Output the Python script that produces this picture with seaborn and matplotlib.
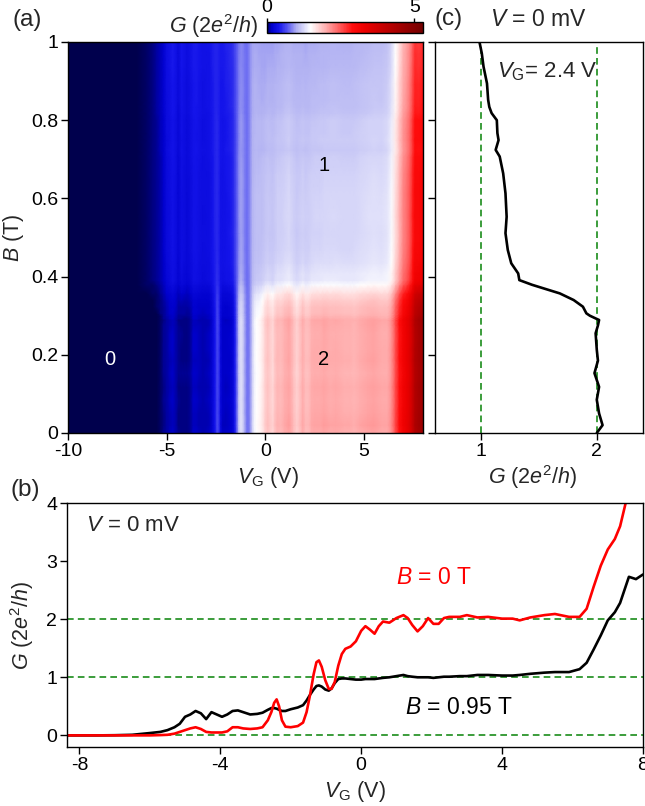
import numpy as np
import matplotlib
matplotlib.use("Agg")
import matplotlib.pyplot as plt
import seaborn as sns
from matplotlib.colors import LinearSegmentedColormap

# ---- gate sweeps at V = 0 mV (conductance in units of 2e^2/h) ----
vg = [-8.4, -7.5, -7.0, -6.5, -6.0, -5.7, -5.5, -5.3, -5.15, -5.0, -4.85, -4.7,
      -4.55, -4.4, -4.25, -4.1, -3.95, -3.8, -3.65, -3.5, -3.35, -3.15, -2.95,
      -2.8, -2.65, -2.55, -2.47, -2.4, -2.33, -2.25, -2.15, -2.0, -1.8, -1.65,
      -1.55, -1.45, -1.35, -1.27, -1.2, -1.12, -1.02, -0.92, -0.84, -0.75, -0.65,
      -0.55, -0.45, -0.3, -0.15, 0.0, 0.12, 0.25, 0.38, 0.5, 0.62, 0.8, 1.0, 1.2,
      1.32, 1.45, 1.6, 1.75, 1.9, 2.05, 2.2, 2.35, 2.5, 2.8, 3.0, 3.3, 3.6, 4.0,
      4.3, 4.5, 4.8, 5.2, 5.5, 5.9, 6.2, 6.4, 6.6, 6.8, 7.0, 7.2, 7.35, 7.5, 7.6,
      7.8, 8.0]
g_b0 = [0.0, 0.0, 0.0, 0.0, 0.0, 0.005, 0.01, 0.03, 0.06, 0.09, 0.12, 0.14,
        0.11, 0.06, 0.05, 0.05, 0.05, 0.07, 0.14, 0.14, 0.12, 0.11, 0.12,
        0.14, 0.26, 0.40, 0.56, 0.62, 0.50, 0.26, 0.15, 0.14, 0.16, 0.22,
        0.40, 0.70, 1.05, 1.26, 1.29, 1.18, 0.95, 0.80, 0.80, 0.92, 1.20,
        1.40, 1.49, 1.53, 1.62, 1.80, 1.88, 1.82, 1.75, 1.88, 1.96, 1.94, 2.02, 2.07,
        2.02, 1.90, 1.79, 1.88, 2.02, 1.92, 1.92, 2.02, 2.04, 2.04, 2.07, 2.03, 2.04, 2.01,
        2.01, 1.98, 2.03, 2.07, 2.09, 2.04, 2.04, 2.18, 2.56, 2.92, 3.2, 3.38, 3.6, 3.98, 4.3,
        4.5, 4.6]
g_b095 = [0.0, 0.0, 0.003, 0.01, 0.04, 0.06, 0.09, 0.14, 0.2, 0.32, 0.36, 0.42,
          0.38, 0.28, 0.40, 0.36, 0.32, 0.36, 0.42, 0.43, 0.40, 0.36, 0.37,
          0.39, 0.44, 0.47, 0.47, 0.46, 0.44, 0.42, 0.42, 0.45, 0.48, 0.52,
          0.60, 0.70, 0.79, 0.85, 0.86, 0.84, 0.79, 0.77, 0.81, 0.90, 0.97,
          0.98, 0.98, 0.97, 0.96, 0.96, 0.97, 0.97, 0.97, 0.98, 0.99, 1.0, 1.02, 1.04,
          1.02, 1.01, 1.0, 1.0, 1.0, 0.99, 1.0, 1.01, 1.01, 1.02, 1.02, 1.04, 1.04, 1.03,
          1.03, 1.04, 1.06, 1.08, 1.09, 1.09, 1.14, 1.25, 1.48, 1.72, 1.98, 2.12, 2.28, 2.55, 2.73,
          2.69, 2.77]

# ---- field sweep at V_G = 2.4 V ----
b_sweep = [0.0, 0.02, 0.05, 0.085, 0.118, 0.153, 0.185, 0.213, 0.255, 0.275,
           0.289, 0.293, 0.300, 0.306, 0.323, 0.340, 0.357, 0.379, 0.391, 0.408,
           0.434, 0.468, 0.511, 0.553, 0.613, 0.664, 0.707, 0.724, 0.749, 0.767,
           0.80, 0.818, 0.834, 0.852, 0.894, 0.937, 0.971, 1.0]
g_sweep = [2.00, 2.05, 2.02, 2.00, 2.02, 1.98, 2.01, 2.00, 1.99, 2.01, 2.02,
           1.99, 1.94, 1.91, 1.88, 1.80, 1.68, 1.44, 1.33, 1.32, 1.26, 1.23,
           1.21, 1.22, 1.21, 1.19, 1.16, 1.125, 1.15, 1.14, 1.135, 1.09, 1.07,
           1.06, 1.05, 1.02, 1.005, 0.985]
vg_sweep = 2.4

# ---- style ----
sns.set_theme(style="ticks")
plt.rcParams.update({
    "font.family": ["Liberation Sans", "DejaVu Sans"],
    "mathtext.fontset": "custom",
    "mathtext.rm": "Liberation Sans",
    "mathtext.it": "Liberation Sans:italic",
    "mathtext.bf": "Liberation Sans:bold",
    "axes.unicode_minus": False,
    "font.size": 14,
    "xtick.labelsize": 14,
    "ytick.labelsize": 14,
    "axes.labelsize": 15.5,
    "axes.edgecolor": "black",
    "axes.linewidth": 1.0,
    "xtick.color": "black",
    "ytick.color": "black",
    "xtick.major.size": 5,
    "ytick.major.size": 5,
    "xtick.major.width": 1.0,
    "ytick.major.width": 1.0,
    "xtick.major.pad": 2,
    "ytick.major.pad": 2,
})

green = "#1a8c1a"
dash = (0, (4, 2.5))

cmap = LinearSegmentedColormap.from_list("g_map", [
    (0.00 / 5.3, (0.00, 0.00, 0.30)),
    (0.05 / 5.3, (0.00, 0.00, 0.55)),
    (0.15 / 5.3, (0.00, 0.00, 0.80)),
    (0.40 / 5.3, (0.08, 0.08, 0.92)),
    (0.70 / 5.3, (0.35, 0.35, 0.95)),
    (1.00 / 5.3, (0.70, 0.70, 0.95)),
    (1.20 / 5.3, (0.82, 0.82, 0.97)),
    (1.47 / 5.3, (1.00, 1.00, 1.00)),
    (2.00 / 5.3, (1.00, 0.68, 0.68)),
    (2.90 / 5.3, (1.00, 0.05, 0.05)),
    (3.30 / 5.3, (0.93, 0.00, 0.00)),
    (5.30 / 5.3, (0.45, 0.00, 0.00)),
])

fig = plt.figure(figsize=(6.45, 8.06), dpi=100)
ax_a = fig.add_axes([0.1054, 0.4628, 0.5504, 0.4851])
ax_c = fig.add_axes([0.6744, 0.4628, 0.3225, 0.4851])
ax_b = fig.add_axes([0.1039, 0.0732, 0.893, 0.3027])
cax = fig.add_axes([0.414, 0.959, 0.2419, 0.01365])

# ---- (a) conductance map: low/high-field traces weighted by the field sweep ----
vg_map = np.array([-10.0] + vg)
g_low = np.array([0.0] + g_b0)
g_high = np.array([0.0] + g_b095)
ref_low = np.interp(vg_sweep, vg, g_b0)
ref_high = np.interp(vg_sweep, vg, g_b095)
weight = (np.array(g_sweep) - ref_high) / (ref_low - ref_high)
g_map = g_high[None, :] + weight[:, None] * (g_low - g_high)[None, :]
mesh = ax_a.pcolormesh(vg_map, np.array(b_sweep), g_map, cmap=cmap,
                       vmin=0, vmax=5.3, shading="gouraud", rasterized=True)
ax_a.set_xlim(-10, 8)
ax_a.set_ylim(0, 1)
ax_a.set_xticks([-10, -5, 0, 5])
ax_a.set_yticks([0, 0.2, 0.4, 0.6, 0.8, 1.0])
ax_a.set_yticklabels(["0", "0.2", "0.4", "0.6", "0.8", "1"])
ax_a.set_xlabel(r"$V_\mathrm{G}$ (V)")
ax_a.xaxis.set_label_coords(0.563, -0.083)
ax_a.set_ylabel(r"$B$ (T)")
ax_a.yaxis.set_label_coords(-0.118, 0.5)
ax_a.text(-7.87, 0.187, "0", color="white", fontsize=14.5, ha="center", va="center")
ax_a.text(2.96, 0.685, "1", color="black", fontsize=14.5, ha="center", va="center")
ax_a.text(2.96, 0.187, "2", color="black", fontsize=14.5, ha="center", va="center")

cb = fig.colorbar(mesh, cax=cax, orientation="horizontal")
cb.set_ticks([0, 5])
cax.xaxis.set_ticks_position("top")
cax.tick_params(length=3, pad=1, labelsize=14)
cb.outline.set_linewidth(1.0)
fig.text(0.400, 0.968, r"$G$ (2$e^2$/$h$)", ha="right", va="center", fontsize=15.5)

# ---- (c) field sweep ----
ax_c.axvline(1, color=green, lw=1.2, ls=dash)
ax_c.axvline(2, color=green, lw=1.2, ls=dash)
sns.lineplot(x=g_sweep, y=b_sweep, sort=False, estimator=None, color="black",
             lw=1.9, ax=ax_c)
ax_c.set_xlim(0.6, 2.4)
ax_c.set_ylim(0, 1)
ax_c.set_xticks([1, 2])
ax_c.set_yticks([0, 0.2, 0.4, 0.6, 0.8, 1.0])
ax_c.set_yticklabels([])
ax_c.set_xlabel(r"$G$ (2$e^2$/$h$)")
ax_c.xaxis.set_label_coords(0.47, -0.078)
ax_c.text(0.30, 0.923, r"$V_\mathrm{G}$= 2.4 V", transform=ax_c.transAxes,
          ha="left", va="center", fontsize=16)

# ---- (b) gate sweeps ----
for level in (0, 1, 2):
    ax_b.axhline(level, color=green, lw=1.2, ls=dash)
sns.lineplot(x=vg, y=g_b095, color="black", lw=1.9, ax=ax_b)
sns.lineplot(x=vg, y=g_b0, color="red", lw=1.9, ax=ax_b)
ax_b.set_xlim(-8.35, 8.0)
ax_b.set_ylim(-0.2, 4)
ax_b.set_xticks([-8, -4, 0, 4, 8])
ax_b.set_yticks([0, 1, 2, 3, 4])
ax_b.set_xlabel(r"$V_\mathrm{G}$ (V)")
ax_b.xaxis.set_label_coords(0.5, -0.132)
ax_b.set_ylabel(r"$G$ (2$e^2$/$h$)")
ax_b.yaxis.set_label_coords(-0.054, 0.5)
ax_b.text(-7.81, 3.62, r"$V$ = 0 mV", ha="left", va="center", fontsize=16)
ax_b.text(1.0, 2.71, r"$B$ = 0 T", color="red", ha="left", va="center", fontsize=16.5)
ax_b.text(1.23, 0.48, r"$B$ = 0.95 T", color="black", ha="left", va="center", fontsize=16.5)

# ---- panel tags ----
fig.text(0.019, 0.975, "(a)", fontsize=17.5, ha="left", va="center")
fig.text(0.016, 0.392, "(b)", fontsize=17.5, ha="left", va="center")
fig.text(0.674, 0.976, "(c)", fontsize=17.5, ha="left", va="center")
fig.text(0.760, 0.976, r"$V$ = 0 mV", fontsize=16.5, ha="left", va="center")

fig.savefig("out.png", dpi=100)
